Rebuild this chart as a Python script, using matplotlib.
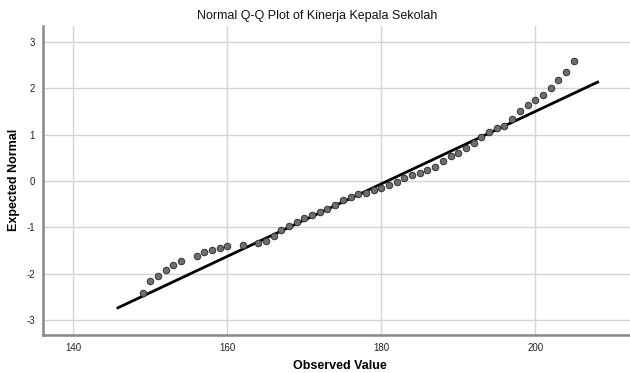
import matplotlib
matplotlib.use("Agg")
import matplotlib.pyplot as plt
import numpy as np

observed = [149, 150, 151, 152, 153, 154, 156, 157, 158, 159, 160, 162,
            164, 165, 166, 167, 168, 169, 170, 171, 172, 173, 174, 175,
            176, 177, 178, 179, 180, 181, 182, 183, 184, 185, 186, 187,
            188, 189, 190, 191, 192, 193, 194, 195, 196, 197, 198, 199,
            200, 201, 202, 203, 204, 205]
expected = [-2.42, -2.16, -2.05, -1.92, -1.81, -1.72, -1.62, -1.54, -1.49, -1.45, -1.41, -1.38,
            -1.33, -1.29, -1.19, -1.06, -0.97, -0.89, -0.80, -0.73, -0.67, -0.61, -0.51, -0.42,
            -0.34, -0.29, -0.25, -0.20, -0.16, -0.09, -0.02, 0.06, 0.12, 0.17, 0.23, 0.31,
            0.43, 0.54, 0.61, 0.71, 0.82, 0.94, 1.06, 1.14, 1.18, 1.33, 1.51, 1.63,
            1.74, 1.86, 2.01, 2.18, 2.34, 2.58]

# reference line: normal with this mean / sd, drawn over this range
mean = 180.8
sd = 12.8
line_range = [145.8, 208.1]

xticks = [140, 160, 180, 200]
yticks = [-3, -2, -1, 0, 1, 2, 3]

plt.rcParams['font.family'] = ['Liberation Sans', 'DejaVu Sans']
plt.rcParams['axes.unicode_minus'] = False

fig = plt.figure(figsize=(6.3, 3.73), dpi=100)
ax = fig.add_axes([0.0687, 0.102, 0.9313, 0.828])

ax.grid(True, color='#d4d4d4', linewidth=1.0)
ax.set_axisbelow(True)

lx = np.array(line_range)
ax.plot(lx, (lx - mean) / sd, color='black', linewidth=2.0, zorder=2)
ax.scatter(observed, expected, s=22, facecolor='#6e6e6e', edgecolor='#333333',
           linewidth=0.7, zorder=3)

ax.set_xlim(136.1, 212.3)
ax.set_ylim(-3.32, 3.34)
ax.set_xticks(xticks)
ax.set_yticks(yticks)
ax.tick_params(length=0, labelsize=7, colors='#222222', pad=6)

for s in ['top', 'right']:
    ax.spines[s].set_visible(False)
for s in ['left', 'bottom']:
    ax.spines[s].set_color('#888888')
    ax.spines[s].set_linewidth(1.8)

fig.text(0.503, 0.957, 'Normal Q-Q Plot of Kinerja Kepala Sekolah', fontsize=9,
         ha='center', va='center', color='#111111')
fig.text(0.54, 0.019, 'Observed Value', fontsize=9, fontweight='bold',
         ha='center', va='center')
fig.text(0.022, 0.517, 'Expected Normal', fontsize=9, fontweight='bold',
         ha='center', va='center', rotation=90)

fig.savefig('out.png', dpi=100)
